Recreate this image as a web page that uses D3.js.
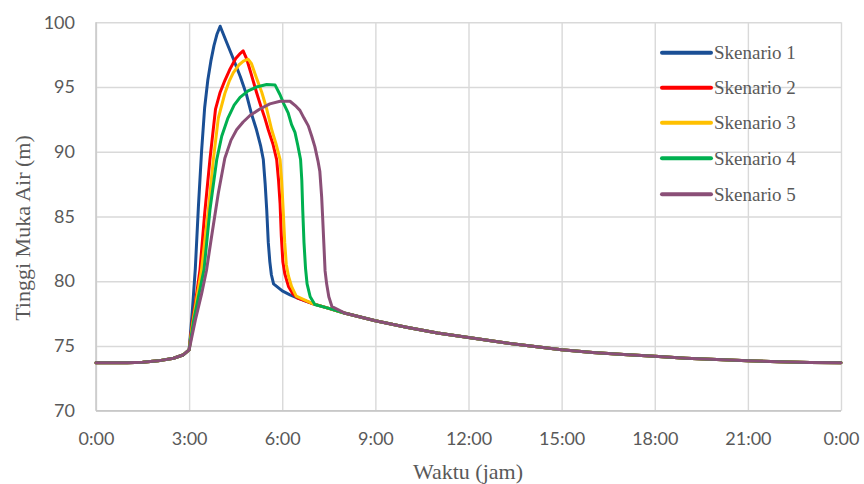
<!DOCTYPE html>
<html><head><meta charset="utf-8">
<script src="https://cdn.jsdelivr.net/npm/d3@7"></script>
<style>body{margin:0;background:#fff}</style>
</head><body>
<svg id="c" width="864" height="484"></svg>
<script>
// ---- data ----
const seriesNames = ["Skenario 1", "Skenario 2", "Skenario 3", "Skenario 4", "Skenario 5"];
const seriesColors = ["#1a4f95", "#ff0000", "#ffc000", "#00b050", "#8a4f77"];
const xTickValues = [0, 3, 6, 9, 12, 15, 18, 21, 24];
const xTickLabels = ["0:00", "3:00", "6:00", "9:00", "12:00", "15:00", "18:00", "21:00", "0:00"];
const yTickValues = [70, 75, 80, 85, 90, 95, 100];

// shared part before 3:00 (hours, metres)
const headPoints = [[0,73.7],[0.5,73.7],[1,73.7],[1.5,73.75],[2,73.85],[2.5,74.05],[2.8,74.3],[3.0,74.7]];
// shared recession curve after the drop
const tailPoints = [[5.75,79.6],[6.0,79.25],[6.25,78.95],[6.5,78.7],[7.0,78.25],[7.5,77.9],[8.0,77.55],
  [9,76.95],[10,76.45],[11,76.0],[12,75.65],[13,75.3],[14,75.0],[15,74.7],[16,74.5],[17,74.35],
  [18,74.2],[19,74.05],[20,73.95],[21,73.85],[22,73.78],[23,73.72],[24,73.7]];

const s1Points = [[3.1,77.6],[3.2,81.0],[3.3,85.8],[3.4,90.0],[3.5,93.4],[3.6,95.5],[3.7,97.0],[3.8,98.2],
  [3.9,99.1],[4.0,99.7],[4.2,98.5],[4.42,97.2],[4.65,95.8],[4.85,94.4],[5.0,93.0],[5.17,91.7],[5.3,90.5],
  [5.39,89.4],[5.45,87.5],[5.5,85.5],[5.55,83.0],[5.6,81.5],[5.65,80.5],[5.72,79.8]];
const s2Points = [[3.1,76.8],[3.2,78.3],[3.35,80.9],[3.5,85.2],[3.67,89.4],[3.85,93.3],[4.0,94.6],[4.15,95.5],
  [4.32,96.4],[4.5,97.2],[4.65,97.6],[4.74,97.8],[4.85,97.2],[5.0,96.0],[5.17,94.6],[5.3,93.6],[5.44,92.6],
  [5.55,91.7],[5.7,90.6],[5.82,89.4],[5.88,87.8],[5.93,86.0],[5.97,83.5],[6.02,81.5],[6.08,80.6],[6.2,79.6],
  [6.35,79.0]];
const s3Points = [[3.1,76.5],[3.2,78.0],[3.4,80.9],[3.5,83.0],[3.62,85.5],[3.78,89.4],[3.94,92.6],[4.15,94.5],
  [4.3,95.5],[4.42,96.1],[4.6,96.7],[4.75,97.0],[4.9,97.15],[5.01,96.8],[5.17,95.7],[5.34,94.6],[5.5,93.3],
  [5.66,91.7],[5.8,90.6],[5.93,89.4],[5.98,87.8],[6.03,85.5],[6.08,83.0],[6.13,81.3],[6.2,80.4],[6.3,79.6],
  [6.45,78.85]];
const s4Points = [[3.15,77.0],[3.3,78.8],[3.48,80.9],[3.67,85.5],[3.89,89.4],[4.05,91.2],[4.25,92.6],[4.45,93.6],
  [4.64,94.2],[4.9,94.7],[5.17,95.0],[5.5,95.2],[5.77,95.15],[5.93,94.4],[6.05,93.7],[6.19,93.0],[6.3,92.1],
  [6.41,91.5],[6.5,90.5],[6.59,89.4],[6.63,87.8],[6.66,85.5],[6.7,83.0],[6.75,81.0],[6.8,79.8],[6.9,78.8],
  [7.05,78.2]];
const s5Points = [[3.2,77.0],[3.4,79.0],[3.56,80.85],[3.72,83.4],[3.94,86.8],[4.15,89.5],[4.35,90.9],[4.53,91.7],
  [4.74,92.3],[4.96,92.8],[5.28,93.3],[5.6,93.7],[5.93,93.9],[6.25,93.9],[6.45,93.5],[6.57,93.2],[6.7,92.6],
  [6.84,92.0],[6.95,91.2],[7.05,90.4],[7.15,89.3],[7.21,88.5],[7.27,86.5],[7.3,85.0],[7.34,82.9],[7.38,80.8],
  [7.43,79.8],[7.5,78.8],[7.6,78.05]];
const scenarioPoints = [s1Points, s2Points, s3Points, s4Points, s5Points];

// ---- chart ----
const svg = d3.select("#c");
const L = 96, R = 841, T = 22.3, B = 410.7;
const x = d3.scaleLinear().domain([0, 24]).range([L, R]);
const y = d3.scaleLinear().domain([70, 100]).range([B, T]);

// grid
const gx = svg.append("g").attr("transform", `translate(0,${B})`)
  .call(d3.axisBottom(x).tickValues(xTickValues).tickSize(-(B - T)).tickFormat(""));
gx.select(".domain").remove();
gx.selectAll("line").attr("stroke", "#d9d9d9").attr("stroke-width", 1.4);
const gy = svg.append("g").attr("transform", `translate(${L},0)`)
  .call(d3.axisLeft(y).tickValues(yTickValues).tickSize(-(R - L)).tickFormat(""));
gy.select(".domain").remove();
gy.selectAll("line").attr("stroke", "#d9d9d9").attr("stroke-width", 1.4);

// axis lines
svg.append("line").attr("x1", L).attr("x2", L).attr("y1", T).attr("y2", B).attr("stroke", "#c8c8c8").attr("stroke-width", 1.5);
svg.append("line").attr("x1", L).attr("x2", R).attr("y1", B).attr("y2", B).attr("stroke", "#c8c8c8").attr("stroke-width", 1.5);

// tick labels via axes
const ax = svg.append("g").attr("transform", `translate(0,${B})`)
  .call(d3.axisBottom(x).tickValues(xTickValues).tickSize(0).tickPadding(22)
    .tickFormat((d, i) => xTickLabels[i]));
ax.select(".domain").remove();
ax.selectAll("text").attr("font-family", "Lato, 'Open Sans', sans-serif").attr("font-size", 18).attr("fill", "#595959");

const ay = svg.append("g").attr("transform", `translate(${L},0)`)
  .call(d3.axisLeft(y).tickValues(yTickValues).tickSize(0).tickPadding(21));
ay.select(".domain").remove();
ay.selectAll("text").attr("font-family", "Lato, 'Open Sans', sans-serif").attr("font-size", 18).attr("fill", "#595959");

// lines
const line = d3.line().x(d => x(d[0])).y(d => y(d[1])).curve(d3.curveLinear);
scenarioPoints.forEach((pts, i) => {
  const last = pts[pts.length - 1][0];
  const data = headPoints.concat(pts, tailPoints.filter(p => p[0] > last + 0.05));
  svg.append("path").datum(data).attr("d", line)
    .attr("fill", "none").attr("stroke", seriesColors[i]).attr("stroke-width", 3)
    .attr("stroke-linejoin", "round").attr("stroke-linecap", "round");
});

// axis titles
svg.append("text").attr("x", 468).attr("y", 479).attr("text-anchor", "middle")
  .attr("font-family", "'Liberation Serif', 'DejaVu Serif', serif").attr("font-size", 22).attr("fill", "#595959")
  .text("Waktu (jam)");
svg.append("text").attr("transform", "translate(30,228) rotate(-90)").attr("text-anchor", "middle")
  .attr("font-family", "'Liberation Serif', 'DejaVu Serif', serif").attr("font-size", 22).attr("fill", "#595959")
  .text("Tinggi Muka Air (m)");

// legend
const legendY = [52.7, 87.7, 122.7, 158.3, 194.3];
seriesNames.forEach((name, i) => {
  svg.append("line").attr("x1", 662).attr("x2", 711).attr("y1", legendY[i]).attr("y2", legendY[i])
    .attr("stroke", seriesColors[i]).attr("stroke-width", 4).attr("stroke-linecap", "round");
  svg.append("text").attr("x", 714).attr("y", legendY[i]).attr("dy", "0.35em")
    .attr("font-family", "'Liberation Serif', 'DejaVu Serif', serif").attr("font-size", 19).attr("fill", "#595959")
    .text(name);
});
</script>
</body></html>
